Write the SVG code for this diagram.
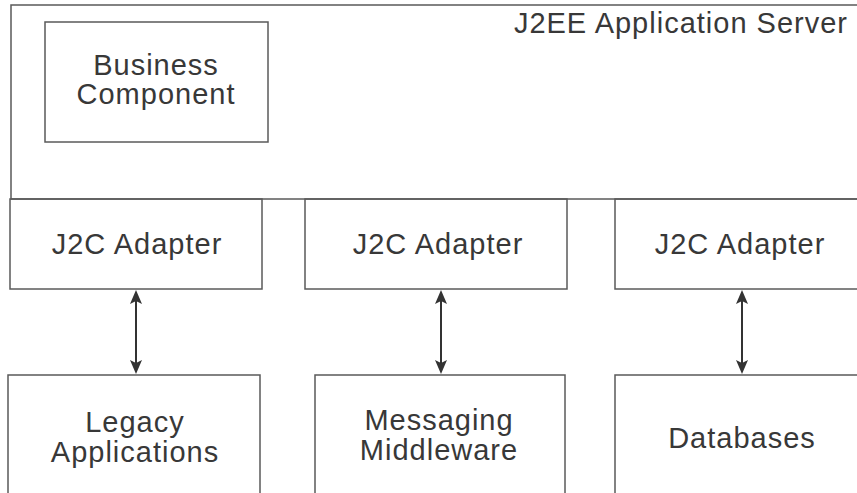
<svg xmlns="http://www.w3.org/2000/svg" width="857" height="493" viewBox="0 0 857 493">
<style>
.box{fill:none;stroke:#5a5a5a;stroke-width:1.5}
.lbl{font-family:'Liberation Sans',Arial,Helvetica,sans-serif;font-size:29px;letter-spacing:1px;fill:#383838;text-anchor:middle}
.conn{stroke:#333;stroke-width:2;fill:none}
.head{fill:#333;stroke:none}
</style>
<rect width="857" height="493" fill="#fff"/>
<g id="server">
<rect class="box" x="11" y="5" width="860" height="194"/>
<text class="lbl" x="848" y="33" style="text-anchor:end">J2EE Application Server</text>
</g>
<g id="business">
<rect class="box" x="45" y="22" width="223" height="120"/>
<text class="lbl" x="156" y="75">Business</text>
<text class="lbl" x="156" y="104">Component</text>
</g>
<g id="adapter1">
<rect class="box" x="10" y="199" width="252" height="90"/>
<text class="lbl" x="137" y="254">J2C Adapter</text>
</g>
<g id="adapter2">
<rect class="box" x="305" y="199" width="262" height="90"/>
<text class="lbl" x="438" y="254">J2C Adapter</text>
</g>
<g id="adapter3">
<rect class="box" x="615" y="199" width="260" height="90"/>
<text class="lbl" x="740" y="254">J2C Adapter</text>
</g>
<g id="legacy">
<rect class="box" x="8" y="375" width="252" height="130"/>
<text class="lbl" x="135" y="432">Legacy</text>
<text class="lbl" x="135" y="462">Applications</text>
</g>
<g id="messaging">
<rect class="box" x="315" y="375" width="250" height="130"/>
<text class="lbl" x="439" y="430">Messaging</text>
<text class="lbl" x="439" y="460">Middleware</text>
</g>
<g id="databases">
<rect class="box" x="615" y="375" width="260" height="130"/>
<text class="lbl" x="742" y="448">Databases</text>
</g>
<g id="connectors">
<line class="conn" x1="136" y1="300" x2="136" y2="364"/>
<path class="head" d="M136,290 L142,304 L136,301 L130,304 z M136,374 L142,360 L136,363 L130,360 z"/>
<line class="conn" x1="441" y1="300" x2="441" y2="364"/>
<path class="head" d="M441,290 L447,304 L441,301 L435,304 z M441,374 L447,360 L441,363 L435,360 z"/>
<line class="conn" x1="742" y1="300" x2="742" y2="364"/>
<path class="head" d="M742,290 L748,304 L742,301 L736,304 z M742,374 L748,360 L742,363 L736,360 z"/>
</g>
</svg>
